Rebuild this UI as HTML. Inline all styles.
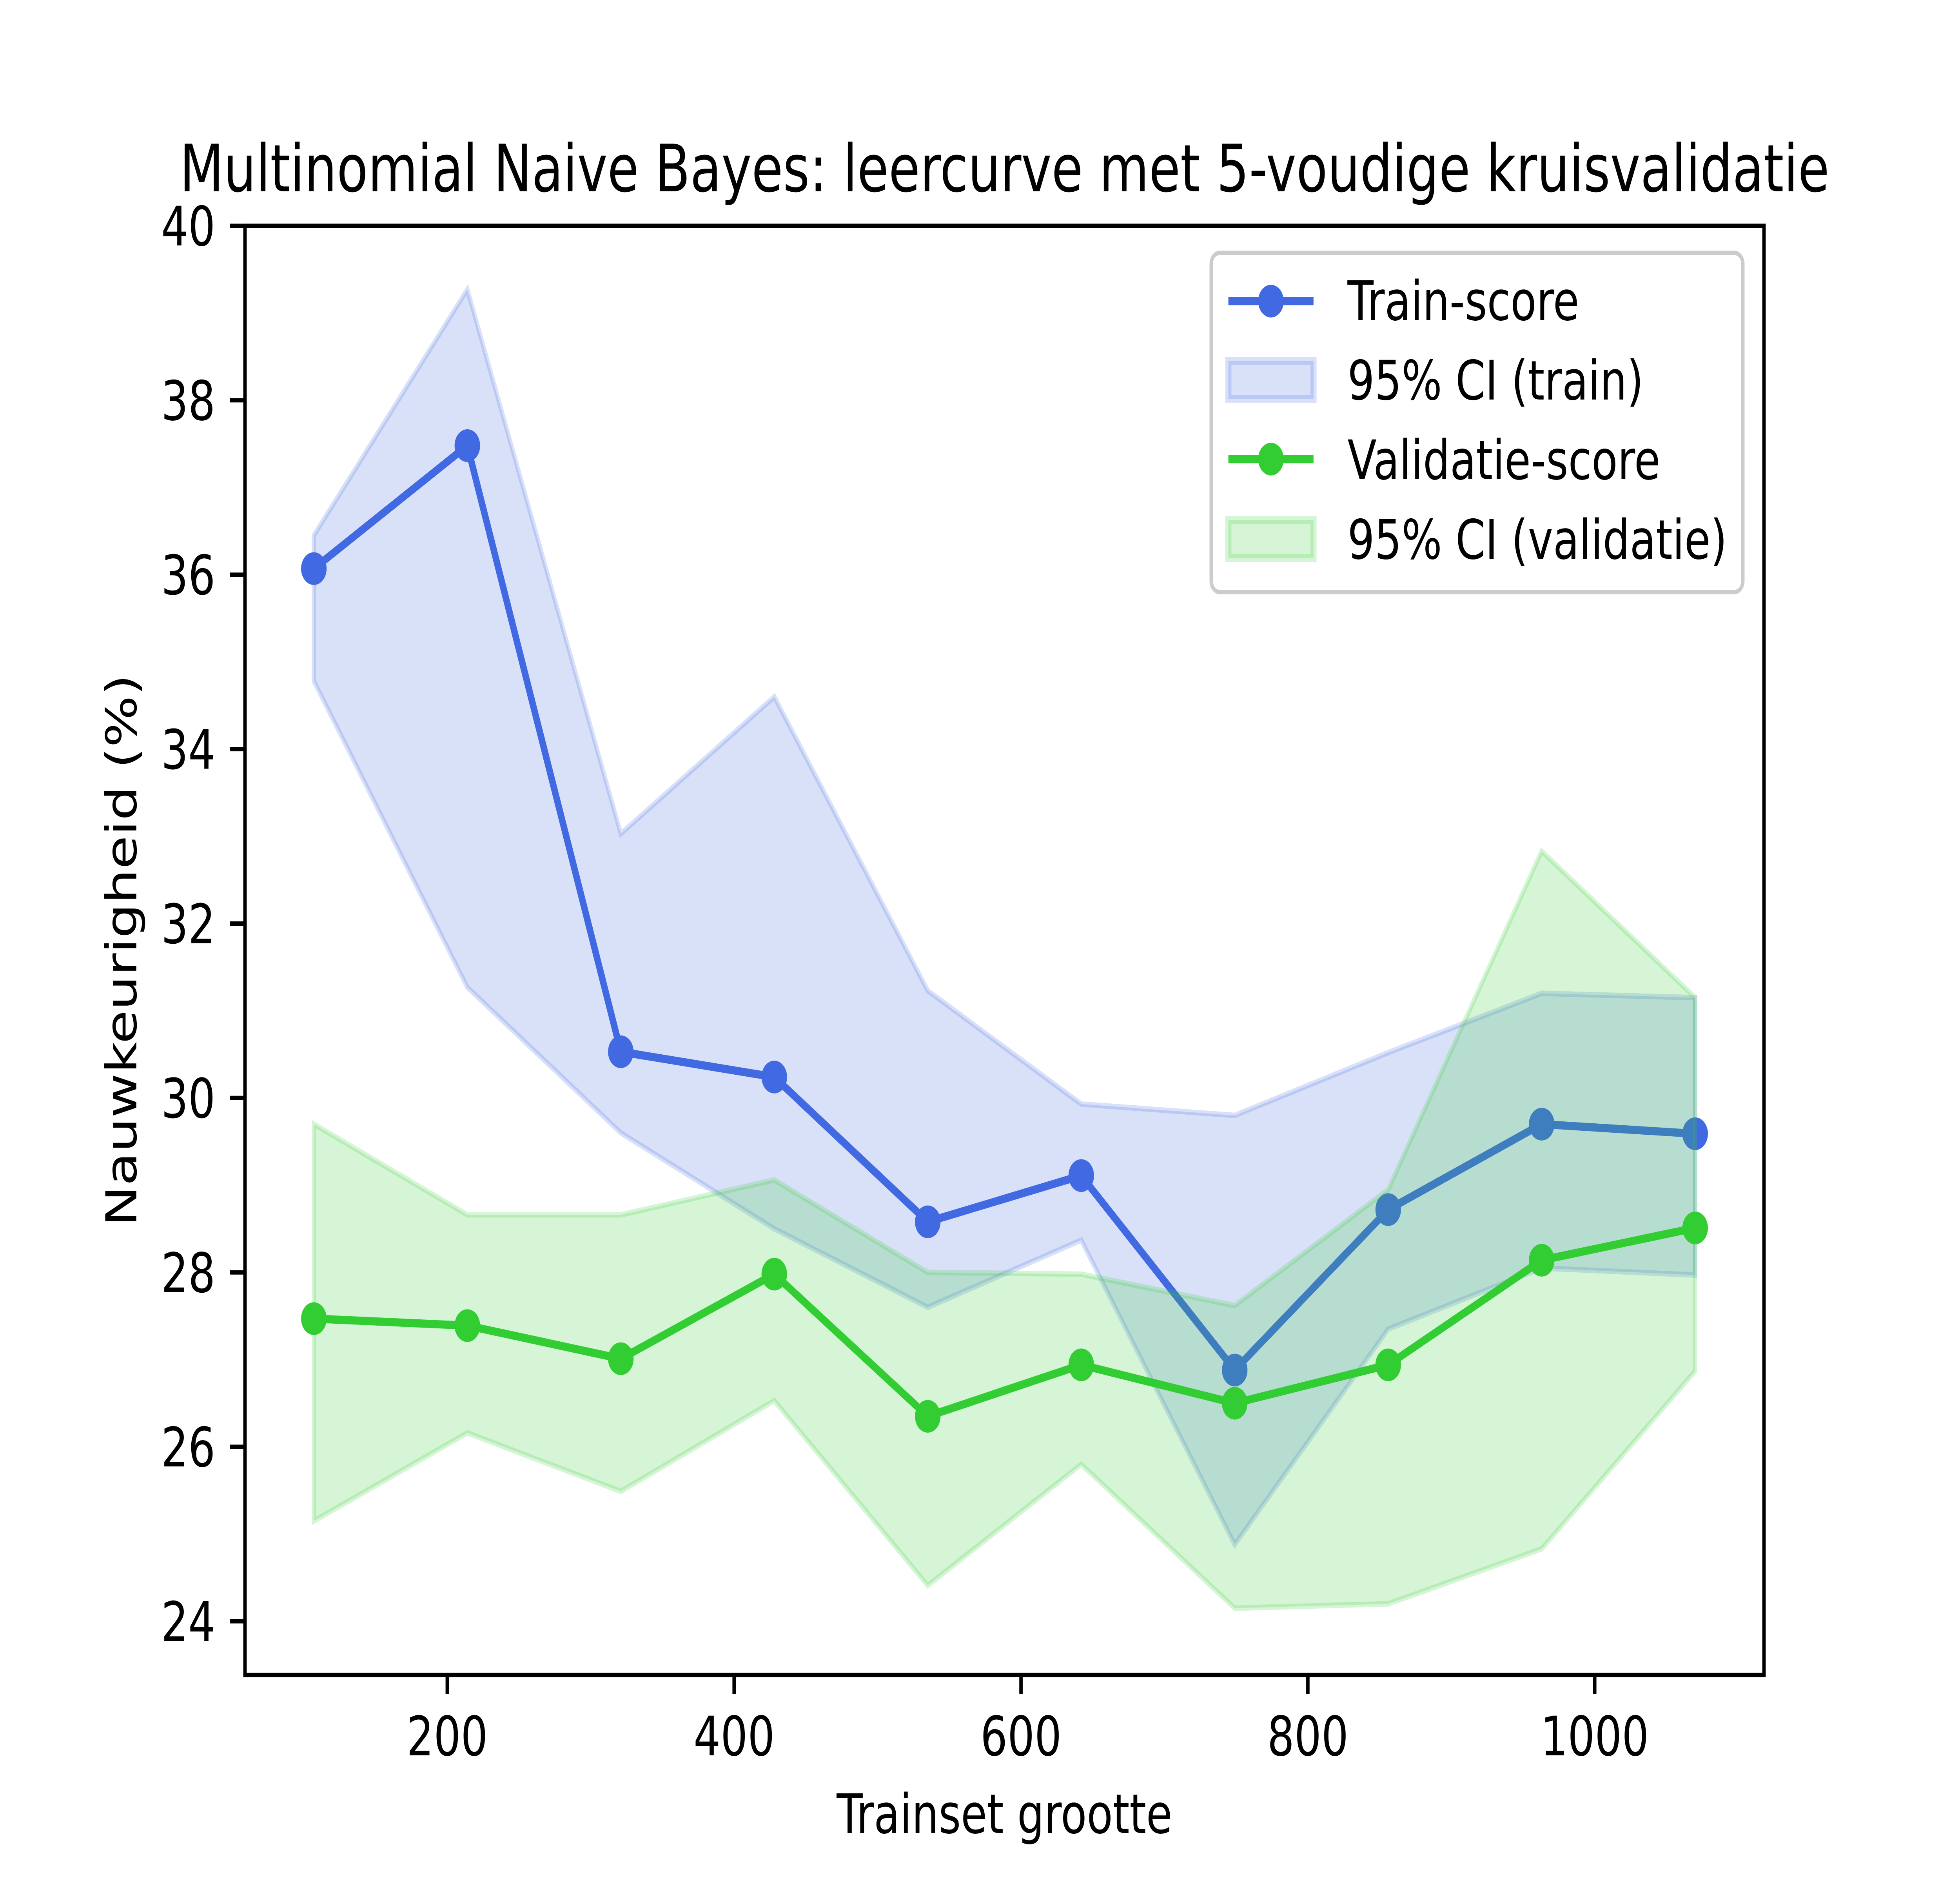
<!DOCTYPE html>
<html><head><meta charset="utf-8"><style>
html,body{margin:0;padding:0;background:#fff;overflow:hidden;width:100%;height:100%}
svg{display:block;font-family:"DejaVu Sans","Liberation Sans",sans-serif;width:100vw;height:100vh}
</style></head><body>
<svg id="chart" viewBox="0 0 6400 4800" preserveAspectRatio="none" xmlns="http://www.w3.org/2000/svg">
<rect x="0" y="0" width="6400" height="4800" fill="#fff"/>
<text x="3280" y="488" font-size="166.7" text-anchor="middle">Multinomial Naive Bayes: leercurve met 5-voudige kruisvalidatie</text>
<g id="plot"></g>
<text x="3280" y="4675" font-size="138.9" text-anchor="middle">Trainset grootte</text>
<text x="0" y="0" font-size="138.9" text-anchor="middle" transform="translate(445,2424) rotate(-90)">Nauwkeurigheid (%)</text>
<g id="legend">
<rect x="3955" y="645" width="1736" height="865" rx="28" fill="#fff" fill-opacity="0.8" stroke="#cccccc" stroke-width="11"/>
<g>
<line x1="4011" y1="768" x2="4289" y2="768" stroke="#4169e1" stroke-width="20.8"/>
<circle cx="4150" cy="768" r="41.7" fill="#4169e1"/>
<text x="4400" y="816" font-size="138.9">Train-score</text></g>
<g>
<rect x="4011" y="920" width="278" height="97" fill="#4169e1" fill-opacity="0.2" stroke="#4169e1" stroke-opacity="0.2" stroke-width="20"/>
<text x="4400" y="1019" font-size="138.9">95% CI (train)</text></g>
<g>
<line x1="4011" y1="1171" x2="4289" y2="1171" stroke="#32cd32" stroke-width="20.8"/>
<circle cx="4150" cy="1171" r="41.7" fill="#32cd32"/>
<text x="4400" y="1222" font-size="138.9">Validatie-score</text></g>
<g>
<rect x="4011" y="1326" width="278" height="97" fill="#32cd32" fill-opacity="0.2" stroke="#32cd32" stroke-opacity="0.2" stroke-width="20"/>
<text x="4400" y="1425" font-size="138.9">95% CI (validatie)</text></g>
</g>
</svg>
<script>
const trainSizes = [107, 214, 321, 428, 535, 642, 749, 856, 963, 1070];
const trainScore = [36.07, 37.48, 30.53, 30.24, 28.58, 29.11, 26.88, 28.72, 29.70, 29.59];
const trainUpper = [36.45, 39.27, 33.03, 34.60, 31.23, 29.93, 29.80, 30.52, 31.20, 31.15];
const trainLower = [34.78, 31.27, 29.60, 28.50, 27.60, 28.37, 24.88, 27.35, 28.05, 27.97];
const valScore = [27.47, 27.39, 27.01, 27.98, 26.35, 26.94, 26.50, 26.94, 28.14, 28.51];
const valUpper = [29.70, 28.66, 28.66, 29.06, 28.00, 27.98, 27.62, 28.95, 32.83, 31.15];
const valLower = [25.15, 26.16, 25.49, 26.53, 24.41, 25.80, 24.15, 24.20, 24.83, 26.87];
const xTicks = [200, 400, 600, 800, 1000];
const yTicks = [24, 26, 28, 30, 32, 34, 36, 38, 40];

const L = 800, R = 5760, T = 576, B = 4272;
const xMin = 59, xMax = 1118, yMin = 23.384, yMax = 40;
const sx = v => L + (v - xMin) / (xMax - xMin) * (R - L);
const sy = v => B - (v - yMin) / (yMax - yMin) * (B - T);
const NS = 'http://www.w3.org/2000/svg';
const plot = document.getElementById('plot');
function mk(tag, attrs, parent) {
  const e = document.createElementNS(NS, tag);
  for (const k in attrs) e.setAttribute(k, attrs[k]);
  (parent || plot).appendChild(e);
  return e;
}
function band(up, lo, color, name) {
  let d = trainSizes.map((x, i) => (i ? 'L' : 'M') + sx(x) + ',' + sy(up[i])).join(' ');
  for (let i = trainSizes.length - 1; i >= 0; i--) d += ' L' + sx(trainSizes[i]) + ',' + sy(lo[i]);
  const p = mk('path', {d: d + ' Z', fill: color, 'fill-opacity': 0.2, stroke: color, 'stroke-opacity': 0.2, 'stroke-width': 14});
  
  
}
function series(vals, color, name) {
  const d = trainSizes.map((x, i) => (i ? 'L' : 'M') + sx(x) + ',' + sy(vals[i])).join(' ');
  const p = mk('path', {d: d, fill: 'none', stroke: color, 'stroke-width': 20.8, 'stroke-linejoin': 'round', 'stroke-linecap': 'square'});
  
  
  vals.forEach((v, i) => {
    const c = mk('circle', {cx: sx(trainSizes[i]), cy: sy(v), r: 41.7, fill: color});
    
    
  });
}
band(trainUpper, trainLower, '#4169e1', 'train-ci-band');
series(trainScore, '#4169e1', 'train-score');
band(valUpper, valLower, '#32cd32', 'validation-ci-band');
series(valScore, '#32cd32', 'validation-score');

xTicks.forEach(t => {
  const g = mk('g', {});
  
  
  mk('line', {x1: sx(t), x2: sx(t), y1: B, y2: B + 48.6, stroke: '#000', 'stroke-width': 11.1}, g);
  const tx = mk('text', {x: sx(t), y: B + 205, 'font-size': 138.9, 'text-anchor': 'middle'}, g);
  tx.textContent = t;
});
yTicks.forEach(t => {
  const g = mk('g', {});
  
  
  mk('line', {x1: L - 48.6, x2: L, y1: sy(t), y2: sy(t), stroke: '#000', 'stroke-width': 11.1}, g);
  const tx = mk('text', {x: L - 97, y: sy(t) + 50, 'font-size': 138.9, 'text-anchor': 'end'}, g);
  tx.textContent = t;
});
const frame = mk('rect', {x: L, y: T, width: R - L, height: B - T, fill: 'none', stroke: '#000', 'stroke-width': 11.1});


</script>
</body></html>
